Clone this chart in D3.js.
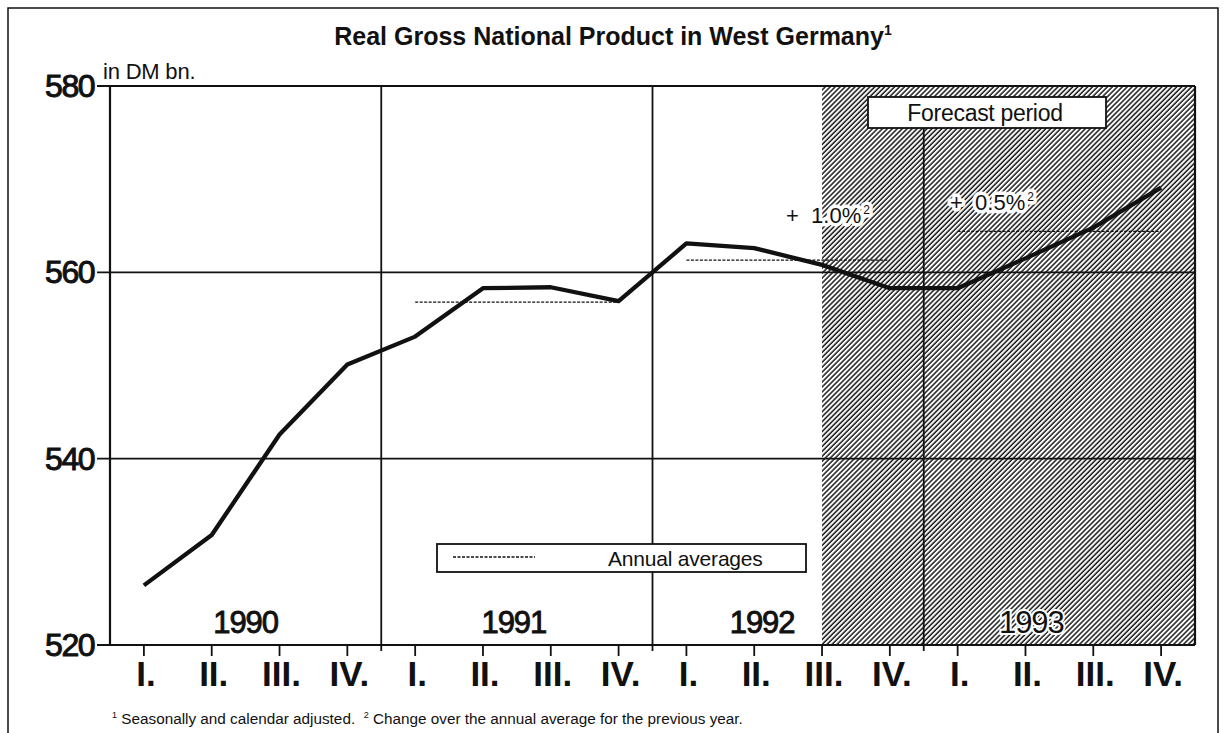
<!DOCTYPE html>
<html><head><meta charset="utf-8">
<script src="https://cdn.jsdelivr.net/npm/d3@7"></script>
<style>body{margin:0;background:#fff}svg{display:block}</style>
</head><body>
<svg id="c" width="1228" height="733"></svg>
<script>
const quarterLabels = ["I.","II.","III.","IV.","I.","II.","III.","IV.","I.","II.","III.","IV.","I.","II.","III.","IV."];
const years = [1990, 1991, 1992, 1993];
const gnp = [526.4, 531.8, 542.6, 550.1, 553.1, 558.3, 558.4, 556.9, 563.1, 562.6, 560.8, 558.3, 558.3, 561.5, 564.8, 569.1];
const avgYears = [1991, 1992, 1993];
const avgValues = [556.8, 561.3, 564.4];
const avgChanges = ["", "+ 1.0%", "+ 0.5%"];
const yTicks = [520, 540, 560, 580];
const forecastStart = 10; // index of 1992 III.

const svg = d3.select("#c");
const L = 110, R = 1195, T = 86, B = 645;
const x = d3.scaleBand().domain(d3.range(quarterLabels.length)).range([L, R]);
const xc = i => x(i) + x.bandwidth() / 2;
const y = d3.scaleLinear().domain([520, 580]).range([B, T]);
const FONT = "'Liberation Sans', Arial, Helvetica, sans-serif";

// outer frame
svg.append("rect").attr("x", 8).attr("y", 8).attr("width", 1210).attr("height", 740)
  .attr("fill", "none").attr("stroke", "#111").attr("stroke-width", 1.5);

// hatch pattern
const defs = svg.append("defs");
const pat = defs.append("pattern").attr("id", "hatch").attr("patternUnits", "userSpaceOnUse")
  .attr("width", 3.5).attr("height", 3.5).attr("patternTransform", "rotate(45)");
pat.append("rect").attr("width", 3.5).attr("height", 3.5).attr("fill", "#fff");
pat.append("line").attr("x1", 1).attr("y1", 0).attr("x2", 1).attr("y2", 3.5)
  .attr("stroke", "#111").attr("stroke-width", 1.45);

svg.append("rect").attr("x", xc(forecastStart)).attr("y", T)
  .attr("width", R - xc(forecastStart)).attr("height", B - T).attr("fill", "url(#hatch)");

// title
svg.append("text").attr("x", 613).attr("y", 45).attr("text-anchor", "middle")
  .attr("font-family", FONT).attr("font-weight", "bold").attr("font-size", 25).attr("fill", "#111")
  .text("Real Gross National Product in West Germany")
  .append("tspan").attr("font-size", 14).attr("dy", -10).text("1");

svg.append("text").attr("x", 103).attr("y", 79).attr("font-family", FONT).attr("font-size", 22)
  .attr("fill", "#111").attr("letter-spacing", -0.2).text("in DM bn.");

// horizontal grid lines
svg.append("g").selectAll("line").data(yTicks).join("line")
  .attr("x1", L - 13).attr("x2", R).attr("y1", d => y(d)).attr("y2", d => y(d))
  .attr("stroke", "#111").attr("stroke-width", d => (d === 520 || d === 580) ? 2.2 : 1.6);

// y labels
svg.append("g").selectAll("text").data(yTicks).join("text")
  .attr("x", 94).attr("y", d => y(d) + 11).attr("text-anchor", "end")
  .attr("font-family", FONT).attr("font-size", 32).attr("letter-spacing", -1.5)
  .attr("fill", "#111").attr("stroke", "#111").attr("stroke-width", 1).text(d => d);

// left and right borders
svg.append("line").attr("x1", L).attr("x2", L).attr("y1", T).attr("y2", B).attr("stroke", "#111").attr("stroke-width", 2.2);
svg.append("line").attr("x1", R).attr("x2", R).attr("y1", T).attr("y2", B).attr("stroke", "#111").attr("stroke-width", 2.2);

// year separators
const seps = [4, 8, 12];
svg.append("g").selectAll("line").data(seps).join("line")
  .attr("x1", d => x(d)).attr("x2", d => x(d))
  .attr("y1", d => d === 12 ? 128 : T).attr("y2", B + 6)
  .attr("stroke", "#111").attr("stroke-width", 1.8);

// x ticks
svg.append("g").selectAll("line").data(d3.range(quarterLabels.length)).join("line")
  .attr("x1", d => xc(d)).attr("x2", d => xc(d)).attr("y1", B).attr("y2", B + 11)
  .attr("stroke", "#111").attr("stroke-width", 1.8);

// x labels
svg.append("g").selectAll("text").data(quarterLabels).join("text")
  .attr("x", (d, i) => xc(i) + 2).attr("y", 686).attr("text-anchor", "middle")
  .attr("font-family", "'Liberation Sans Narrow', 'Liberation Sans', Arial, sans-serif")
  .attr("font-weight", "bold").attr("font-size", 35).attr("fill", "#111").text(d => d);

// year labels
const yearOffsets = [0, -3, -26, -28];
svg.append("g").selectAll("text").data(years).join("text")
  .attr("x", (d, i) => (x(i * 4) + x(i * 4 + 3) + x.bandwidth()) / 2 + yearOffsets[i])
  .attr("y", 633).attr("text-anchor", "middle")
  .attr("font-family", FONT).attr("font-size", 31).attr("letter-spacing", -1)
  .attr("fill", "#111").attr("stroke", (d, i) => i === 3 ? "#fff" : "#111")
  .attr("stroke-width", (d, i) => i === 3 ? 4 : 0.9).attr("paint-order", "stroke").text(d => d);

// annual average lines
svg.append("g").selectAll("line").data(avgYears).join("line")
  .attr("x1", d => xc(years.indexOf(d) * 4)).attr("x2", d => xc(years.indexOf(d) * 4 + 3))
  .attr("y1", (d, i) => y(avgValues[i])).attr("y2", (d, i) => y(avgValues[i]))
  .attr("stroke", "#111").attr("stroke-width", 1.3).attr("stroke-dasharray", "3,1.5");

// annotations for changes
const annPos = [null, [786, 223], [950, 210]];
avgChanges.forEach((t, i) => {
  if (!t) return;
  const tx = svg.append("text").attr("x", annPos[i][0]).attr("y", annPos[i][1])
    .attr("font-family", FONT).attr("font-size", 22).attr("fill", "#111")
    .attr("stroke", "#fff").attr("stroke-width", 7).attr("stroke-linejoin", "round").attr("paint-order", "stroke")
    .attr("xml:space", "preserve");
  tx.append("tspan").text(t.replace("+ ", "+  "));
  tx.append("tspan").attr("font-size", 12).attr("dy", -9).attr("dx", 2).text("2");
});

// GNP line
svg.append("path").datum(gnp)
  .attr("d", d3.line().x((d, i) => xc(i)).y(d => y(d)))
  .attr("fill", "none").attr("stroke", "#111").attr("stroke-width", 4.3).attr("stroke-linejoin", "round");

// forecast period box
svg.append("rect").attr("x", 868).attr("y", 97).attr("width", 238).attr("height", 31)
  .attr("fill", "#fff").attr("stroke", "#111").attr("stroke-width", 1.8);
svg.append("text").attr("x", 985).attr("y", 121).attr("text-anchor", "middle")
  .attr("font-family", FONT).attr("font-size", 23).attr("fill", "#111").attr("letter-spacing", -0.3)
  .text("Forecast period");

// legend
svg.append("rect").attr("x", 437).attr("y", 544).attr("width", 369).attr("height", 28)
  .attr("fill", "#fff").attr("stroke", "#111").attr("stroke-width", 1.8);
svg.append("line").attr("x1", 453).attr("x2", 535).attr("y1", 557).attr("y2", 557)
  .attr("stroke", "#111").attr("stroke-width", 1.3).attr("stroke-dasharray", "3,1.5");
svg.append("text").attr("x", 608).attr("y", 566).attr("font-family", FONT).attr("font-size", 21)
  .attr("fill", "#111").attr("letter-spacing", -0.2).text("Annual averages");

// footnote
const fn = svg.append("text").attr("x", 112).attr("y", 724).attr("font-family", FONT)
  .attr("font-size", 15.3).attr("fill", "#111").attr("xml:space", "preserve");
fn.append("tspan").attr("font-size", 9).attr("dy", -6).text("1");
fn.append("tspan").attr("dy", 6).text(" Seasonally and calendar adjusted.  ");
fn.append("tspan").attr("font-size", 9).attr("dy", -6).text("2");
fn.append("tspan").attr("dy", 6).text(" Change over the annual average for the previous year.");
</script>
</body></html>
